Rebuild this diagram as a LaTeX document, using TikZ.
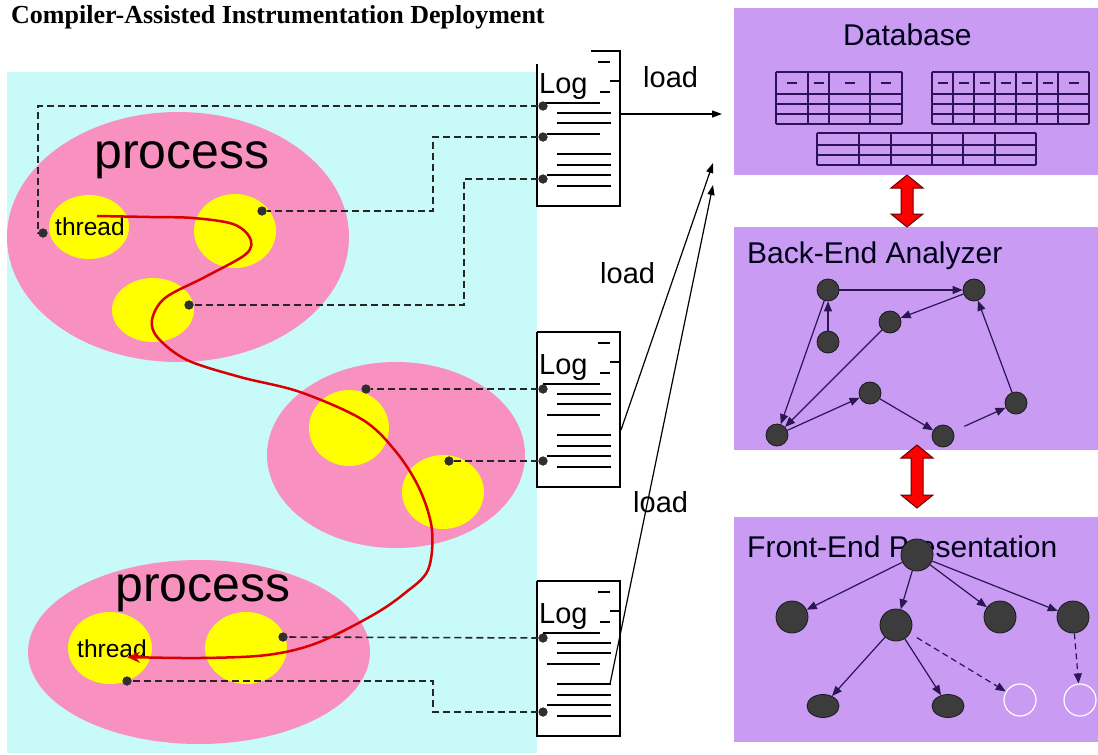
\documentclass[tikz,border=0pt]{standalone}
\usepackage{fontspec}
\setmainfont{Liberation Serif}
\newfontfamily\arialf{Liberation Sans}
\usetikzlibrary{arrows.meta,shapes.geometric}
\definecolor{bgcyan}{HTML}{C8FAFA}
\definecolor{procpink}{HTML}{F891BF}
\definecolor{thryel}{HTML}{FFFF00}
\definecolor{panelc}{HTML}{C99BF3}
\definecolor{tabline}{HTML}{2E1258}
\definecolor{nodegray}{HTML}{3C3C3C}
\definecolor{edgec}{HTML}{2A1650}
\definecolor{curvered}{HTML}{D80000}
\definecolor{dotc}{HTML}{2F2F2F}

\newcommand\logbox[3]{%
 \begin{scope}[shift={(0,#1)}]
  \draw[logline] (#2,0) -- (620,0) -- (620,155) -- (537,155) -- (537,#3);
  \draw[logline] (543,52) -- (600,52);
  \draw[logline] (557,62) -- (611,62);
  \draw[logline] (557,72) -- (611,72);
  \draw[logline] (547,83) -- (600,83);
  \draw[logline] (557,103) -- (611,103);
  \draw[logline] (557,114) -- (611,114);
  \draw[logline] (547,124) -- (611,124);
  \draw[logline] (557,135) -- (611,135);
  \draw[logline] (598,11) -- (610,11);
  \draw[logline] (610,30) -- (620,30);
  \draw[logline] (600,41) -- (610,41);
  \node[anchor=base west, inner sep=0pt, font=\arialf\fontsize{29}{29}\selectfont] at (539,42) {Log};
 \end{scope}}

\newcommand\dblarrow[3]{%
  \filldraw[fill=red, draw=black!60!red, line width=1pt]
   (#1,#2) -- (#1+16,#2+13) -- (#1+6,#2+13) -- (#1+6,#3-13) -- (#1+16,#3-13)
   -- (#1,#3) -- (#1-16,#3-13) -- (#1-6,#3-13) -- (#1-6,#2+13) -- (#1-16,#2+13) -- cycle;}

\begin{document}
\begin{tikzpicture}[x=1pt,y=-1pt,
  logline/.style={line width=1.5pt,black},
  dot/.style={circle,fill=dotc,inner sep=0pt,minimum size=9pt},
  conn/.style={dash pattern=on 7pt off 4pt,line width=1.6pt,black!85},
  loadarr/.style={line width=1.2pt,black,-{Triangle[length=10pt,width=7pt]}},
  panelbox/.style={fill=panelc,draw=none,anchor=north west,inner sep=0pt,minimum width=364pt},
  tab/.style={line width=1.5pt,tabline},
  benode/.style={circle,fill=nodegray,draw=black!90,line width=0.8pt,minimum size=22pt,inner sep=0pt},
  fenode/.style={circle,fill=nodegray,draw=black!90,line width=0.8pt,minimum size=32pt,inner sep=0pt},
  feleaf/.style={ellipse,fill=nodegray,draw=black!90,line width=0.8pt,minimum width=32pt,minimum height=23pt,inner sep=0pt},
  fewhite/.style={circle,draw=white,line width=1.2pt,minimum size=32pt,inner sep=0pt},
  edge/.style={line width=1.2pt,edgec,-{Triangle[length=10pt,width=8pt]}},
  ptitle/.style={anchor=base west,inner sep=0pt,font=\arialf\fontsize{30}{30}\selectfont,text=black!90!blue},
  lbl/.style={anchor=base west,inner sep=0pt,font=\arialf\fontsize{29}{29}\selectfont}
]
\useasboundingbox[fill=white] (0,0) rectangle (1098,755);

% title
\node[anchor=base west,inner sep=0pt,font=\bfseries\fontsize{26}{26}\selectfont] (title) at (11,23) {Compiler-Assisted Instrumentation Deployment};

% left area
\fill[bgcyan] (7,72) rectangle (537,753);
\fill[procpink] (178,237) ellipse [x radius=171, y radius=125];
\fill[procpink] (396,455) ellipse [x radius=129, y radius=93];
\fill[procpink] (199,652) ellipse [x radius=171, y radius=92];
\fill[thryel] (89,227) ellipse [x radius=40, y radius=32];
\fill[thryel] (235,231) ellipse [x radius=41, y radius=37];
\fill[thryel] (153,310) ellipse [x radius=41, y radius=32];
\fill[thryel] (349,428) ellipse [x radius=40, y radius=38];
\fill[thryel] (443,492) ellipse [x radius=41, y radius=37];
\fill[thryel] (110,648) ellipse [x radius=42, y radius=36];
\fill[thryel] (246,648) ellipse [x radius=41, y radius=36];

\node[anchor=base west,inner sep=0pt,font=\arialf\fontsize{50}{50}\selectfont] (proc1) at (94,168) {process};
\node[anchor=base west,inner sep=0pt,font=\arialf\fontsize{50}{50}\selectfont] (proc2) at (115,601) {process};
\node[anchor=base west,inner sep=0pt,font=\arialf\fontsize{24.5}{24.5}\selectfont] (thr1) at (55,235) {thread};
\node[anchor=base west,inner sep=0pt,font=\arialf\fontsize{24.5}{24.5}\selectfont] (thr2) at (77,657) {thread};

% log boxes
\logbox{51}{591}{13}
\logbox{332}{537}{0}
\logbox{581}{537}{0}

% dots
\node[dot] (b1a) at (543,106) {};
\node[dot] (b1b) at (543,137) {};
\node[dot] (b1c) at (543,179) {};
\node[dot] (b2a) at (543,389) {};
\node[dot] (b2b) at (543,461) {};
\node[dot] (b3a) at (543,638) {};
\node[dot] (b3b) at (543,712) {};
\node[dot] (t1d) at (43,233) {};
\node[dot] (t2d) at (262,211) {};
\node[dot] (t3d) at (189,305) {};
\node[dot] (m1d) at (366,389) {};
\node[dot] (m2d) at (449,461) {};
\node[dot] (p2d) at (283,637) {};
\node[dot] (p1d) at (127,681) {};

% dashed connectors
\draw[conn] (b1a) -- (38,106) |- (t1d);
\draw[conn] (b1b) -- (433,137) |- (t2d);
\draw[conn] (b1c) -- (464,179) |- (t3d);
\draw[conn] (b2a) -- (m1d);
\draw[conn] (b2b) -- (m2d);
\draw[conn] (b3a) -- (p2d);
\draw[conn] (b3b) -- (433,712) |- (p1d);

% red thread path
\draw[curvered,line width=2.5pt,-{Stealth[length=13pt,width=11pt]}]
  plot[smooth,tension=0.55] coordinates {(97,216) (150,217) (193,218) (233,224) (250,238) (246,254) (205,277) (165,298) (152,320) (158,338) (187,360) (240,377) (300,392) (363,420) (397,453) (420,490) (432,530) (428,570) (405,593) (373,615) (317,643) (267,655) (200,658) (127,657)};

% redraw dots on top
\foreach \d in {b1a,b1b,b1c,b2a,b2b,b3a,b3b,t1d,t2d,t3d,m1d,m2d,p2d,p1d}{\fill[dotc] (\d) circle[radius=4.5];}

% load arrows
\coordinate (l1s) at (620,114);
\coordinate (l1e) at (722,114);
\coordinate (l2s) at (621,430);
\coordinate (l2e) at (713,163);
\coordinate (l3s) at (610,684);
\coordinate (l3e) at (713,185);
\draw[loadarr] (l1s) -- (l1e);
\draw[loadarr] (l2s) -- (l2e);
\draw[loadarr] (l3s) -- (l3e);
\node[lbl] (load1) at (643,87) {load};
\node[lbl] (load2) at (600,283) {load};
\node[lbl] (load3) at (633,512) {load};

% panels
\node[panelbox,minimum height=167pt] (db) at (734,8) {};
\node[panelbox,minimum height=223pt] (be) at (734,227) {};
\node[panelbox,minimum height=225pt] (fe) at (734,517) {};

\node[ptitle] at (843,45) {Database};
\node[ptitle] at (747,263) {Back-End Analyzer};
\node[ptitle] at (747,557) {Front-End Presentation};

% database tables
\foreach \xx in {776,808,829,870,902} \draw[tab] (\xx,72) -- (\xx,124);
\foreach \yy in {72,94,104,114,124} \draw[tab] (776,\yy) -- (902,\yy);
\foreach \xa/\xb in {776/808,808/829,829/870,870/902} \draw[tab] ({(\xa+\xb)/2-5},83) -- ({(\xa+\xb)/2+5},83);
\foreach \xx in {932,953,974,995,1016,1037,1058,1089} \draw[tab] (\xx,72) -- (\xx,124);
\foreach \yy in {72,94,104,114,124} \draw[tab] (932,\yy) -- (1089,\yy);
\foreach \xa/\xb in {932/953,953/974,974/995,995/1016,1016/1037,1037/1058,1058/1089} \draw[tab] ({(\xa+\xb)/2-5},83) -- ({(\xa+\xb)/2+5},83);
\foreach \xx in {817,859,891,932,963,995,1036} \draw[tab] (\xx,133) -- (\xx,165);
\foreach \yy in {133,145,155,165} \draw[tab] (817,\yy) -- (1036,\yy);

% red double arrows
\dblarrow{907}{175}{227}
\dblarrow{917}{445}{508}

% back-end graph
\node[benode] (n1) at (828,290) {};
\node[benode] (n2) at (974,290) {};
\node[benode] (n3) at (890,322) {};
\node[benode] (n4) at (828,342) {};
\node[benode] (n5) at (777,435) {};
\node[benode] (n6) at (870,393) {};
\node[benode] (n7) at (943,436) {};
\node[benode] (n8) at (1016,403) {};
\draw[edge] (n1) -- (n2);
\draw[edge] (n4) -- (n1);
\draw[edge] (n2) -- (n3);
\draw[edge] (n1) -- (n5);
\draw[edge] (n3) -- (n5);
\draw[edge] (n5) -- (n6);
\draw[edge] (n6) -- (n7);
\draw[edge,shorten <=12pt] (n7) -- (n8);
\draw[edge] (n8) -- (n2);

% front-end graph
\node[fenode] (f0) at (917,555) {};
\node[fenode] (f1) at (792,617) {};
\node[fenode] (f2) at (896,625) {};
\node[fenode] (f3) at (1000,617) {};
\node[fenode] (f4) at (1073,617) {};
\node[feleaf] (f5) at (823,706) {};
\node[feleaf] (f6) at (948,706) {};
\node[fewhite] (f7) at (1020,700) {};
\node[fewhite] (f8) at (1080,700) {};
\draw[edge] (f0) -- (f1);
\draw[edge] (f0) -- (f2);
\draw[edge] (f0) -- (f3);
\draw[edge] (f0) -- (f4);
\draw[edge] (f2) -- (f5);
\draw[edge] (f2) -- (f6);
\draw[edge,dash pattern=on 6pt off 4pt,shorten <=8pt] (f2) -- (f7);
\draw[edge,dash pattern=on 6pt off 4pt] (f4) -- (f8);
\end{tikzpicture}
\end{document}
